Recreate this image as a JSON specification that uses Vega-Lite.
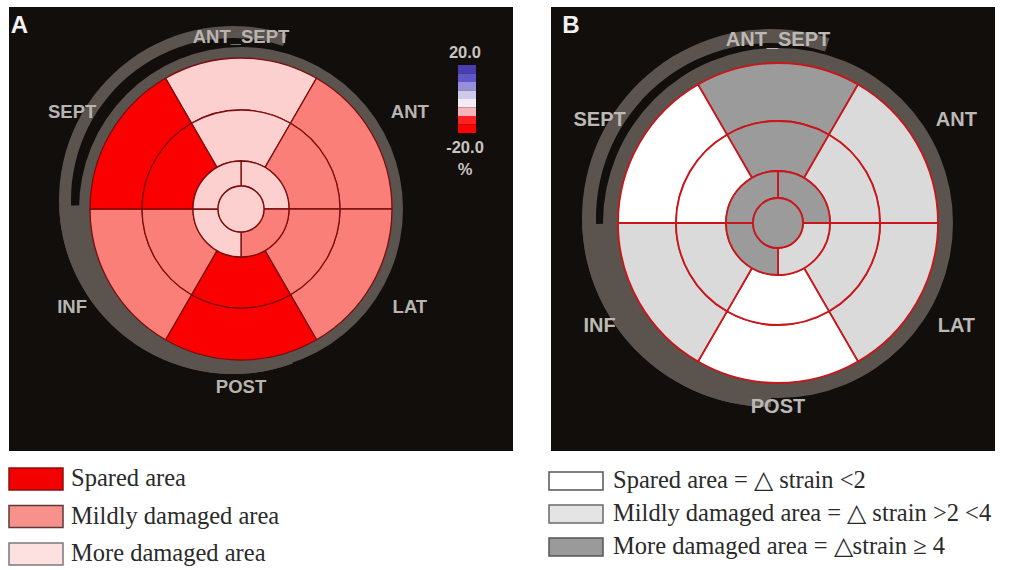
{
  "$schema": "https://vega.github.io/schema/vega-lite/v6.json",
  "background": "white",
  "padding": {"left": 8, "top": 7, "right": 0, "bottom": 0},
  "config": {"view": {"stroke": null}},
  "datasets": {
    "segments": [
      {"seg": "basal anteroseptal", "ri": 3, "ro": 4, "t0": -30, "t1": 30, "A": "more", "B": "more"},
      {"seg": "basal anterior", "ri": 3, "ro": 4, "t0": 30, "t1": 90, "A": "mild", "B": "mild"},
      {"seg": "basal lateral", "ri": 3, "ro": 4, "t0": 90, "t1": 150, "A": "mild", "B": "mild"},
      {"seg": "basal posterior", "ri": 3, "ro": 4, "t0": 150, "t1": 210, "A": "spared", "B": "spared"},
      {"seg": "basal inferior", "ri": 3, "ro": 4, "t0": 210, "t1": 270, "A": "mild", "B": "mild"},
      {"seg": "basal septal", "ri": 3, "ro": 4, "t0": 270, "t1": 330, "A": "spared", "B": "spared"},
      {"seg": "mid anteroseptal", "ri": 2, "ro": 3, "t0": -30, "t1": 30, "A": "more", "B": "more"},
      {"seg": "mid anterior", "ri": 2, "ro": 3, "t0": 30, "t1": 90, "A": "mild", "B": "mild"},
      {"seg": "mid lateral", "ri": 2, "ro": 3, "t0": 90, "t1": 150, "A": "mild", "B": "mild"},
      {"seg": "mid posterior", "ri": 2, "ro": 3, "t0": 150, "t1": 210, "A": "spared", "B": "spared"},
      {"seg": "mid inferior", "ri": 2, "ro": 3, "t0": 210, "t1": 270, "A": "mild", "B": "mild"},
      {"seg": "mid septal", "ri": 2, "ro": 3, "t0": 270, "t1": 330, "A": "spared", "B": "spared"},
      {"seg": "apical anterior", "ri": 1, "ro": 2, "t0": 0, "t1": 90, "A": "more", "B": "more"},
      {"seg": "apical lateral", "ri": 1, "ro": 2, "t0": 90, "t1": 180, "A": "mild", "B": "mild"},
      {"seg": "apical inferior", "ri": 1, "ro": 2, "t0": 180, "t1": 270, "A": "more", "B": "more"},
      {"seg": "apical septal", "ri": 1, "ro": 2, "t0": 270, "t1": 360, "A": "more", "B": "more"},
      {"seg": "apex", "ri": 0, "ro": 1, "t0": 0, "t1": 360, "A": "more", "B": "more"}
    ],
    "walls": [
      {"wall": "ANT_SEPT", "angle": 0, "tier": 7},
      {"wall": "ANT", "angle": 60, "tier": 8},
      {"wall": "LAT", "angle": 120, "tier": 8},
      {"wall": "POST", "angle": 180, "tier": 9},
      {"wall": "INF", "angle": 240, "tier": 8},
      {"wall": "SEPT", "angle": 300, "tier": 8}
    ]
  },
  "resolve": {"scale": {"x": "independent", "y": "independent", "theta": "independent", "radius": "independent", "fill": "independent", "color": "independent", "stroke": "independent"}},
  "spacing": 8,
  "vconcat": [
    {
      "spacing": 38,
      "resolve": {"scale": {"x": "independent", "y": "independent", "theta": "independent", "radius": "independent", "fill": "independent", "color": "independent", "stroke": "independent"}},
      "hconcat": [
        {
          "width": 504,
          "height": 444,
          "view": {"fill": "#110e0c", "stroke": null},
          "resolve": {"scale": {"y": "independent", "fill": "independent", "color": "independent"}},
          "layer": [
            {
              "layer": [
                {
                  "data": {"values": [
                    {"part": "outer arc", "ri": 5, "ro": 6, "t0": -200, "t1": 18},
                    {"part": "outer arc join", "ri": 4, "ro": 6, "t0": -200, "t1": -92}
                  ]},
                  "mark": {"type": "arc", "fill": "#5a534e"},
                  "encoding": {
                    "x": {"datum": 232, "type": "quantitative", "scale": {"domain": [8, 512], "nice": false, "zero": false}, "axis": null},
                    "y": {"datum": 200, "type": "quantitative", "scale": {"domain": [7, 451], "nice": false, "zero": false, "reverse": true}, "axis": null},
                    "theta": {"field": "t0", "type": "quantitative", "stack": null, "scale": {"domain": [0, 360], "range": [0, 6.283185307179586], "nice": false, "zero": false}},
                    "theta2": {"field": "t1"},
                    "radius": {"field": "ro", "type": "quantitative", "scale": {"type": "linear", "domain": [0, 1, 2, 3, 4, 5, 6, 7, 8, 9], "range": [0, 23, 48, 99, 151, 162, 174, 172, 195, 178], "nice": false, "zero": false}},
                    "radius2": {"field": "ri"}
                  }
                },
                {
                  "data": {"values": [{"part": "ring", "ri": 4, "ro": 5, "t0": 0, "t1": 360}]},
                  "mark": {"type": "arc", "fill": "#5a534e"},
                  "encoding": {
                    "x": {"datum": 240, "type": "quantitative", "scale": {"domain": [8, 512], "nice": false, "zero": false}, "axis": null},
                    "y": {"datum": 209, "type": "quantitative", "scale": {"domain": [7, 451], "nice": false, "zero": false, "reverse": true}, "axis": null},
                    "theta": {"field": "t0", "type": "quantitative", "stack": null, "scale": {"domain": [0, 360], "range": [0, 6.283185307179586], "nice": false, "zero": false}},
                    "theta2": {"field": "t1"},
                    "radius": {"field": "ro", "type": "quantitative", "scale": {"type": "linear", "domain": [0, 1, 2, 3, 4, 5, 6, 7, 8, 9], "range": [0, 23, 48, 99, 151, 162, 174, 172, 195, 178], "nice": false, "zero": false}},
                    "radius2": {"field": "ri"}
                  }
                },
                {
                  "data": {"name": "segments"},
                  "mark": {"type": "arc", "stroke": "#7d0d0d", "strokeWidth": 1.3},
                  "encoding": {
                    "x": {"datum": 240, "type": "quantitative", "scale": {"domain": [8, 512], "nice": false, "zero": false}, "axis": null},
                    "y": {"datum": 209, "type": "quantitative", "scale": {"domain": [7, 451], "nice": false, "zero": false, "reverse": true}, "axis": null},
                    "theta": {"field": "t0", "type": "quantitative", "stack": null, "scale": {"domain": [0, 360], "range": [0, 6.283185307179586], "nice": false, "zero": false}},
                    "theta2": {"field": "t1"},
                    "radius": {"field": "ro", "type": "quantitative", "scale": {"type": "linear", "domain": [0, 1, 2, 3, 4, 5, 6, 7, 8, 9], "range": [0, 23, 48, 99, 151, 162, 174, 172, 195, 178], "nice": false, "zero": false}},
                    "radius2": {"field": "ri"},
                    "fill": {"field": "A", "type": "nominal", "scale": {"domain": ["spared", "mild", "more"], "range": ["#fa0000", "#fa7f79", "#fdd0d0"]}, "legend": null}
                  }
                },
                {
                  "data": {"name": "walls"},
                  "mark": {"type": "text", "font": "Liberation Sans", "fontWeight": "bold", "fontSize": 18.5, "color": "#b8b4b0", "align": "center", "baseline": "middle"},
                  "encoding": {
                    "x": {"datum": 240, "type": "quantitative", "scale": {"domain": [8, 512], "nice": false, "zero": false}, "axis": null},
                    "y": {"datum": 209, "type": "quantitative", "scale": {"domain": [7, 451], "nice": false, "zero": false, "reverse": true}, "axis": null},
                    "theta": {"field": "angle", "type": "quantitative", "stack": null, "scale": {"domain": [0, 360], "range": [0, 6.283185307179586], "nice": false, "zero": false}},
                    "radius": {"field": "tier", "type": "quantitative", "scale": {"type": "linear", "domain": [0, 1, 2, 3, 4, 5, 6, 7, 8, 9], "range": [0, 23, 48, 99, 151, 162, 174, 172, 195, 178], "nice": false, "zero": false}},
                    "text": {"field": "wall"}
                  }
                },
                {
                  "data": {"values": [{"panel": "A"}]},
                  "mark": {"type": "text", "font": "Liberation Sans", "fontWeight": "bold", "fontSize": 24, "color": "#f2f2f2", "align": "center", "baseline": "middle"},
                  "encoding": {
                    "x": {"datum": 18.5, "type": "quantitative", "scale": {"domain": [8, 512], "nice": false, "zero": false}, "axis": null},
                    "y": {"datum": 26, "type": "quantitative", "scale": {"domain": [7, 451], "nice": false, "zero": false, "reverse": true}, "axis": null},
                    "text": {"field": "panel"}
                  }
                }
              ]
            },
            {
              "layer": [
                {
                  "data": {"values": [
                    {"from": 20, "to": 15}, {"from": 15, "to": 10}, {"from": 10, "to": 5}, {"from": 5, "to": 0},
                    {"from": 0, "to": -5}, {"from": -5, "to": -10}, {"from": -10, "to": -15}, {"from": -15, "to": -20}
                  ]},
                  "mark": {"type": "rect"},
                  "encoding": {
                    "x": {"datum": 457, "type": "quantitative", "scale": {"domain": [8, 512], "nice": false, "zero": false}, "axis": null},
                    "x2": {"datum": 475},
                    "y": {"field": "from", "type": "quantitative", "scale": {"domain": [-207.06, 54.12], "nice": false, "zero": false}, "axis": null},
                    "y2": {"field": "to"},
                    "color": {"field": "from", "type": "ordinal", "scale": {"domain": [20, 15, 10, 5, 0, -5, -10, -15], "range": ["#4a3db2", "#5f56c8", "#958fdc", "#cfc9ee", "#f5ebf2", "#f6b3bb", "#ff2020", "#ff0000"]}, "legend": null}
                  }
                },
                {
                  "data": {"values": [{"v": 20, "t": "20.0"}]},
                  "mark": {"type": "text", "font": "Liberation Sans", "fontWeight": "bold", "fontSize": 16.5, "color": "#c8c4c0", "align": "center", "baseline": "bottom", "dy": -4},
                  "encoding": {
                    "x": {"datum": 464, "type": "quantitative", "scale": {"domain": [8, 512], "nice": false, "zero": false}, "axis": null},
                    "y": {"field": "v", "type": "quantitative", "scale": {"domain": [-207.06, 54.12], "nice": false, "zero": false}, "axis": null},
                    "text": {"field": "t"}
                  }
                },
                {
                  "data": {"values": [{"v": -20, "t": "-20.0\n%"}]},
                  "mark": {"type": "text", "font": "Liberation Sans", "fontWeight": "bold", "fontSize": 16.5, "color": "#c8c4c0", "align": "center", "baseline": "top", "dy": 7, "lineBreak": "\n", "lineHeight": 22},
                  "encoding": {
                    "x": {"datum": 464, "type": "quantitative", "scale": {"domain": [8, 512], "nice": false, "zero": false}, "axis": null},
                    "y": {"field": "v", "type": "quantitative", "scale": {"domain": [-207.06, 54.12], "nice": false, "zero": false}, "axis": null},
                    "text": {"field": "t"}
                  }
                }
              ]
            }
          ]
        },
        {
          "width": 444,
          "height": 444,
          "view": {"fill": "#110e0c", "stroke": null},
          "layer": [
            {
              "data": {"values": [
                {"part": "outer arc", "ri": 5, "ro": 6, "t0": -180, "t1": 18},
                {"part": "outer arc join", "ri": 4, "ro": 6, "t0": -180, "t1": -92}
              ]},
              "mark": {"type": "arc", "fill": "#5a534e"},
              "encoding": {
                "x": {"datum": 770, "type": "quantitative", "scale": {"domain": [550, 994], "nice": false, "zero": false}, "axis": null},
                "y": {"datum": 218, "type": "quantitative", "scale": {"domain": [7, 451], "nice": false, "zero": false, "reverse": true}, "axis": null},
                "theta": {"field": "t0", "type": "quantitative", "stack": null, "scale": {"domain": [0, 360], "range": [0, 6.283185307179586], "nice": false, "zero": false}},
                "theta2": {"field": "t1"},
                "radius": {"field": "ro", "type": "quantitative", "scale": {"type": "linear", "domain": [0, 1, 2, 3, 4, 5, 6, 7, 8, 9], "range": [0, 25, 52, 102, 160, 175, 189, 183, 206, 184], "nice": false, "zero": false}},
                "radius2": {"field": "ri"}
              }
            },
            {
              "data": {"values": [{"part": "ring", "ri": 4, "ro": 5, "t0": 0, "t1": 360}]},
              "mark": {"type": "arc", "fill": "#5a534e"},
              "encoding": {
                "x": {"datum": 777, "type": "quantitative", "scale": {"domain": [550, 994], "nice": false, "zero": false}, "axis": null},
                "y": {"datum": 223, "type": "quantitative", "scale": {"domain": [7, 451], "nice": false, "zero": false, "reverse": true}, "axis": null},
                "theta": {"field": "t0", "type": "quantitative", "stack": null, "scale": {"domain": [0, 360], "range": [0, 6.283185307179586], "nice": false, "zero": false}},
                "theta2": {"field": "t1"},
                "radius": {"field": "ro", "type": "quantitative", "scale": {"type": "linear", "domain": [0, 1, 2, 3, 4, 5, 6, 7, 8, 9], "range": [0, 25, 52, 102, 160, 175, 189, 183, 206, 184], "nice": false, "zero": false}},
                "radius2": {"field": "ri"}
              }
            },
            {
              "data": {"name": "segments"},
              "mark": {"type": "arc", "stroke": "#c8161a", "strokeWidth": 1.8},
              "encoding": {
                "x": {"datum": 777, "type": "quantitative", "scale": {"domain": [550, 994], "nice": false, "zero": false}, "axis": null},
                "y": {"datum": 223, "type": "quantitative", "scale": {"domain": [7, 451], "nice": false, "zero": false, "reverse": true}, "axis": null},
                "theta": {"field": "t0", "type": "quantitative", "stack": null, "scale": {"domain": [0, 360], "range": [0, 6.283185307179586], "nice": false, "zero": false}},
                "theta2": {"field": "t1"},
                "radius": {"field": "ro", "type": "quantitative", "scale": {"type": "linear", "domain": [0, 1, 2, 3, 4, 5, 6, 7, 8, 9], "range": [0, 25, 52, 102, 160, 175, 189, 183, 206, 184], "nice": false, "zero": false}},
                "radius2": {"field": "ri"},
                "fill": {"field": "B", "type": "nominal", "scale": {"domain": ["spared", "mild", "more"], "range": ["#ffffff", "#dadada", "#9b9b9b"]}, "legend": null}
              }
            },
            {
              "data": {"name": "walls"},
              "mark": {"type": "text", "font": "Liberation Sans", "fontWeight": "bold", "fontSize": 20, "color": "#bcb8b4", "align": "center", "baseline": "middle"},
              "encoding": {
                "x": {"datum": 777, "type": "quantitative", "scale": {"domain": [550, 994], "nice": false, "zero": false}, "axis": null},
                "y": {"datum": 223, "type": "quantitative", "scale": {"domain": [7, 451], "nice": false, "zero": false, "reverse": true}, "axis": null},
                "theta": {"field": "angle", "type": "quantitative", "stack": null, "scale": {"domain": [0, 360], "range": [0, 6.283185307179586], "nice": false, "zero": false}},
                "radius": {"field": "tier", "type": "quantitative", "scale": {"type": "linear", "domain": [0, 1, 2, 3, 4, 5, 6, 7, 8, 9], "range": [0, 25, 52, 102, 160, 175, 189, 183, 206, 184], "nice": false, "zero": false}},
                "text": {"field": "wall"}
              }
            },
            {
              "data": {"values": [{"panel": "B"}]},
              "mark": {"type": "text", "font": "Liberation Sans", "fontWeight": "bold", "fontSize": 24, "color": "#f2f2f2", "align": "center", "baseline": "middle"},
              "encoding": {
                "x": {"datum": 570, "type": "quantitative", "scale": {"domain": [550, 994], "nice": false, "zero": false}, "axis": null},
                "y": {"datum": 26, "type": "quantitative", "scale": {"domain": [7, 451], "nice": false, "zero": false, "reverse": true}, "axis": null},
                "text": {"field": "panel"}
              }
            }
          ]
        }
      ]
    },
    {
      "spacing": 35,
      "resolve": {"scale": {"x": "independent", "y": "independent", "fill": "independent", "stroke": "independent", "color": "independent"}},
      "hconcat": [
        {
          "width": 504,
          "height": 111,
          "data": {"values": [
            {"cat": "spared", "label": "Spared area"},
            {"cat": "mild", "label": "Mildly damaged area"},
            {"cat": "more", "label": "More damaged area"}
          ]},
          "encoding": {
            "y": {"field": "cat", "type": "nominal", "sort": ["spared", "mild", "more"], "scale": {"type": "band", "paddingInner": 0.413, "paddingOuter": 0.187, "align": 0.643}, "axis": null}
          },
          "layer": [
            {
              "mark": {"type": "rect", "strokeWidth": 1.5},
              "encoding": {
                "x": {"datum": 0, "type": "quantitative", "scale": {"domain": [0, 504], "nice": false, "zero": false}, "axis": null},
                "x2": {"datum": 54},
                "fill": {"field": "cat", "type": "nominal", "scale": {"domain": ["spared", "mild", "more"], "range": ["#f40000", "#f8908b", "#fde0e0"]}, "legend": null},
                "stroke": {"field": "cat", "type": "nominal", "scale": {"domain": ["spared", "mild", "more"], "range": ["#8a1010", "#5a3a3a", "#7a7a7a"]}, "legend": null}
              }
            },
            {
              "mark": {"type": "text", "align": "left", "baseline": "middle", "font": "Liberation Serif", "fontSize": 24.5, "color": "#2a2a2a"},
              "encoding": {
                "x": {"datum": 62, "type": "quantitative", "scale": {"domain": [0, 504], "nice": false, "zero": false}, "axis": null},
                "text": {"field": "label"}
              }
            }
          ]
        },
        {
          "width": 444,
          "height": 111,
          "data": {"values": [
            {"cat": "spared", "label": "Spared area = △ strain <2"},
            {"cat": "mild", "label": "Mildly damaged area = △ strain >2 <4"},
            {"cat": "more", "label": "More damaged area = △strain ≥ 4"}
          ]},
          "encoding": {
            "y": {"field": "cat", "type": "nominal", "sort": ["spared", "mild", "more"], "scale": {"type": "band", "paddingInner": 0.4545, "paddingOuter": 0.409, "align": 0.48}, "axis": null}
          },
          "layer": [
            {
              "mark": {"type": "rect", "strokeWidth": 1.5},
              "encoding": {
                "x": {"datum": 0, "type": "quantitative", "scale": {"domain": [0, 444], "nice": false, "zero": false}, "axis": null},
                "x2": {"datum": 54},
                "fill": {"field": "cat", "type": "nominal", "scale": {"domain": ["spared", "mild", "more"], "range": ["#ffffff", "#e4e4e4", "#9a9a9a"]}, "legend": null},
                "stroke": {"field": "cat", "type": "nominal", "scale": {"domain": ["spared", "mild", "more"], "range": ["#555555", "#6a6a6a", "#555555"]}, "legend": null}
              }
            },
            {
              "mark": {"type": "text", "align": "left", "baseline": "middle", "font": "Liberation Serif", "fontSize": 24.5, "color": "#2a2a2a"},
              "encoding": {
                "x": {"datum": 64, "type": "quantitative", "scale": {"domain": [0, 444], "nice": false, "zero": false}, "axis": null},
                "text": {"field": "label"}
              }
            }
          ]
        }
      ]
    }
  ]
}
